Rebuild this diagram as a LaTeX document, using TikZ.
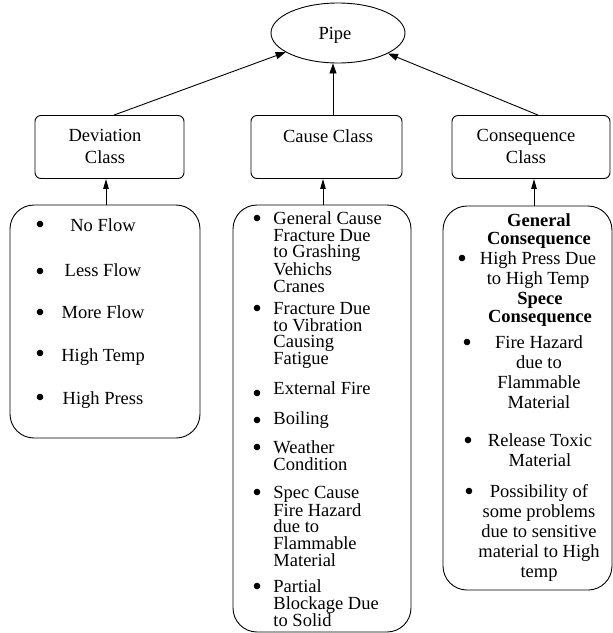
\documentclass[tikz,border=0pt]{standalone}
\usepackage{fontspec}
\setmainfont{Liberation Serif}
\usetikzlibrary{shapes.geometric,arrows.meta}
\newcommand\fstrut{\rule{0pt}{14pt}}
\begin{document}
\begin{tikzpicture}[x=1pt,y=-1pt,
  line width=0.9pt,
  every node/.style={font=\fontsize{18.5}{16.7}\selectfont, inner sep=0pt},
  classbox/.style={draw, rounded corners=6pt, minimum height=63pt},
  listbox/.style={draw, rounded corners=24pt},
  arr/.style={-{Triangle[length=10pt,width=7pt]}},
  arrs/.style={-{Triangle[length=10pt,width=5.5pt]}},
  bul/.style={circle, fill, minimum size=6.6pt},
  cause/.style={anchor=north west, align=left},
  conitem/.style={anchor=north, align=center, font=\fontsize{18.5}{20}\selectfont},
  conhead/.style={anchor=north, align=center, font=\bfseries\fontsize{18.5}{18.5}\selectfont},
  ]
\useasboundingbox (0,0) rectangle (613,633);

% top node
\node[ellipse, draw, minimum width=134pt, minimum height=60pt] (pipe) at (338,33) {};
\node[anchor=base] (pipet) at (335,39) {Pipe};

% class boxes
\node[classbox, minimum width=149pt] (dev) at (109.5,147) {};
\node[classbox, minimum width=151pt] (cause) at (326.5,147) {};
\node[classbox, minimum width=158pt] (cons) at (531,147) {};
\node[anchor=base] (devt1) at (105,141) {Deviation};
\node[anchor=base] (devt2) at (105,163) {Class};
\node[anchor=base] (causet) at (328,142) {Cause Class};
\node[anchor=base] (const1) at (526,141) {Consequence};
\node[anchor=base] (const2) at (526,163) {Class};

% list boxes
\node[listbox, minimum width=190pt, minimum height=233pt] (devlist) at (105,321.5) {};
\node[listbox, minimum width=178pt, minimum height=427pt] (causelist) at (322,418.5) {};
\node[listbox, minimum width=169pt, minimum height=384pt] (conslist) at (527.5,398) {};

% connectors
\draw[arr] ([xshift=4.5pt]dev.north) -- (pipe);
\draw[arr] ([xshift=6.5pt]cause.north) -- ([xshift=6.5pt]cause.north |- pipe.south);
\draw[arr] ([xshift=7pt]cons.north) -- (pipe);
\draw[arrs] ([xshift=1pt]devlist.north) -- ([xshift=1pt]devlist.north |- dev.south);
\draw[arrs] ([xshift=1pt]causelist.north) -- ([xshift=1pt]causelist.north |- cause.south);
\draw[arrs] ([xshift=6.5pt]conslist.north) -- ([xshift=6.5pt]conslist.north |- cons.south);

% deviation list
\foreach \y [count=\i] in {224,271,312,353,397}
  \node[bul] (db\i) at (40,\y) {};
\node[anchor=base] (d1) at (103,231) {No Flow};
\node[anchor=base] (d2) at (103,276) {Less Flow};
\node[anchor=base] (d3) at (103,318) {More Flow};
\node[anchor=base] (d4) at (103,361) {High Temp};
\node[anchor=base] (d5) at (103,404) {High Press};

% cause list
\foreach \y [count=\i] in {218,308,393,420,447,492,586}
  \node[bul] (cb\i) at (257,\y) {};
\node[cause] (c1) at (273,{224-14}) {\fstrut General Cause\\Fracture Due\\to Grashing\\Vehichs\\Cranes};
\node[cause] (c2) at (273,{314-14}) {\fstrut Fracture Due\\to Vibration\\Causing\\Fatigue};
\node[cause] (c3) at (273,{394-14}) {\fstrut External Fire};
\node[cause] (c4) at (273,{424-14}) {\fstrut Boiling};
\node[cause] (c5) at (273,{453-14}) {\fstrut Weather\\Condition};
\node[cause] (c6) at (273,{498-14}) {\fstrut Spec Cause\\Fire Hazard\\due to\\Flammable\\Material};
\node[cause] (c7) at (273,{592-14}) {\fstrut Partial\\Blockage Due\\to Solid};

% consequence list
\foreach \x/\y [count=\i] in {462/258,467/342,468/440,469/491}
  \node[bul] (kb\i) at (\x,\y) {};
\node[conhead] (k1) at (539,{226-14}) {\fstrut General\\Consequence};
\node[conitem] (k2) at (538,{264-14}) {\fstrut High Press Due\\to High Temp};
\node[conhead] (k3) at (540,{304-14}) {\fstrut Spece\\Consequence};
\node[conitem] (k4) at (539,{348-14}) {\fstrut Fire Hazard\\due to\\Flammable\\Material};
\node[conitem] (k5) at (540,{446-14}) {\fstrut Release Toxic\\Material};
\node[conitem] (k6) at (539,{497-14}) {\fstrut Possibility of\\some problems\\due to sensitive\\material to High\\temp};
\end{tikzpicture}
\end{document}
